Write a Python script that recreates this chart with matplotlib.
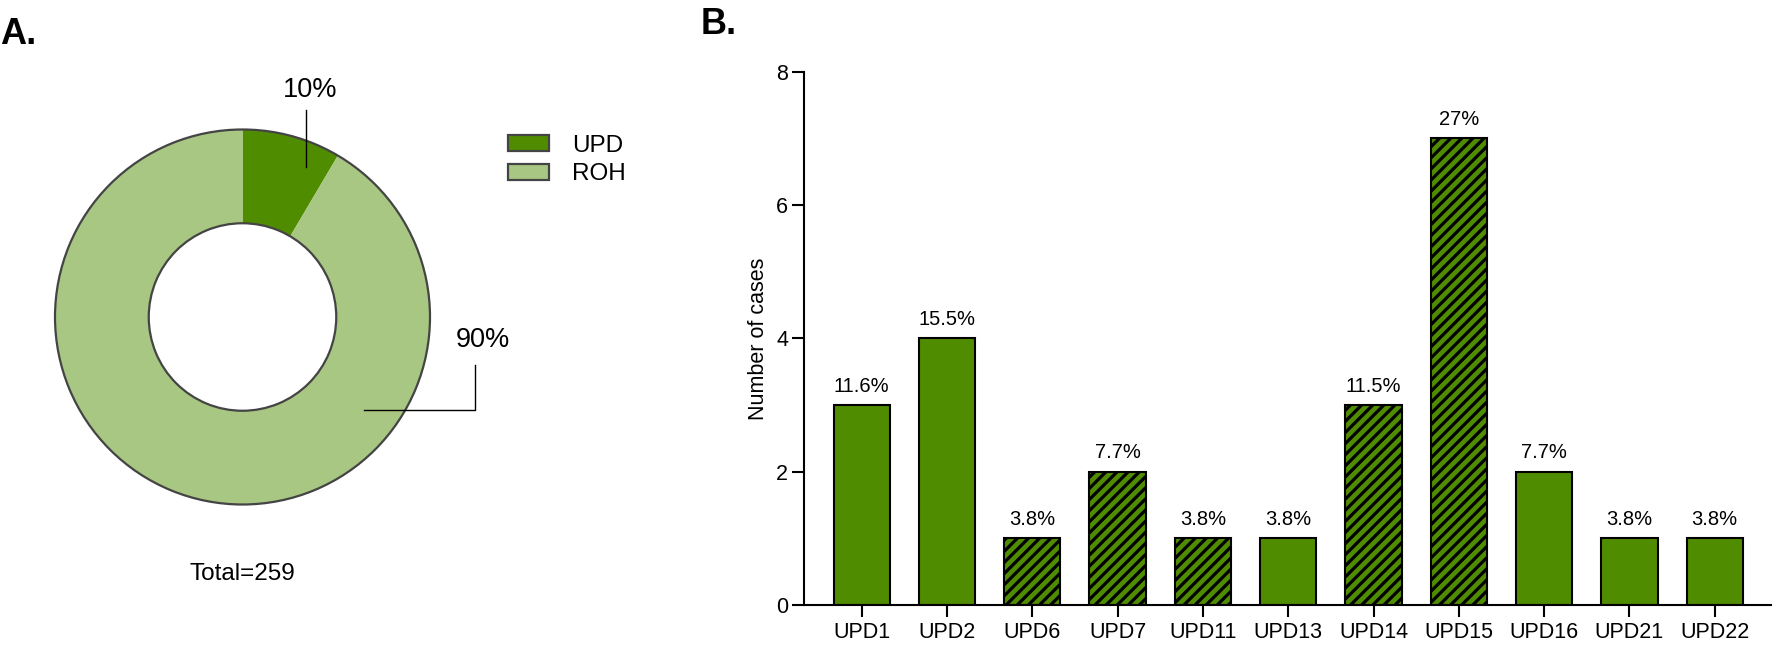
import matplotlib
matplotlib.use("Agg")
import matplotlib.pyplot as plt
from matplotlib.patches import Patch

plt.rcParams['font.family'] = ['Liberation Sans', 'DejaVu Sans']
plt.rcParams['hatch.linewidth'] = 2.3

# ---- data ----
pie_labels = ["UPD", "ROH"]
pie_counts = [22, 237]
pie_pct_text = ["10%", "90%"]
total_text = "Total=259"

bar_cats = ["UPD1", "UPD2", "UPD6", "UPD7", "UPD11", "UPD13", "UPD14",
            "UPD15", "UPD16", "UPD21", "UPD22"]
bar_vals = [3, 4, 1, 2, 1, 1, 3, 7, 2, 1, 1]
bar_pct = ["11.6%", "15.5%", "3.8%", "7.7%", "3.8%", "3.8%", "11.5%",
           "27%", "7.7%", "3.8%", "3.8%"]
bar_hatched = [False, False, True, True, True, False, True, True, False, False, False]
y_ticks = [0, 2, 4, 6, 8]

DARK = "#508C00"
LIGHT = "#A8C782"
EDGE = "#444444"

W, H = 1773, 649
fig = plt.figure(figsize=(W / 100, H / 100), dpi=100)

# ---- Panel A: donut ----
cx, cy, R = 242.5, 317.0, 187.5
half = 200.0
axA = fig.add_axes([(cx - half) / W, (H - cy - half) / H, 2 * half / W, 2 * half / H])
axA.set_aspect('equal')
axA.axis('off')

axA.pie(pie_counts, colors=[DARK, LIGHT], startangle=90, counterclock=False,
        radius=1.0, wedgeprops=dict(width=0.5, edgecolor='none', linewidth=0))
axA.pie([1], colors=['none'], radius=1.0,
        wedgeprops=dict(width=0.5, facecolor='none', edgecolor=EDGE, linewidth=1.6))
axA.set_xlim(-half / R, half / R)
axA.set_ylim(-half / R, half / R)


def px(x, y):
    return ((x - cx) / R, (cy - y) / R)


# leader lines
l1 = [px(306, 110), px(306, 167)]
axA.plot([p[0] for p in l1], [p[1] for p in l1], color='black', lw=1.0, clip_on=False)
l2 = [px(364, 410), px(475, 410), px(475, 365)]
axA.plot([p[0] for p in l2], [p[1] for p in l2], color='black', lw=1.0, clip_on=False)

tx, ty = px(310, 90)
axA.text(tx, ty, pie_pct_text[0], ha='center', va='center', fontsize=19.5, clip_on=False)
tx, ty = px(483, 340)
axA.text(tx, ty, pie_pct_text[1], ha='center', va='center', fontsize=19.5, clip_on=False)
tx, ty = px(242, 574)
axA.text(tx, ty, total_text, ha='center', va='center', fontsize=17.5, clip_on=False)

handles = [Patch(facecolor=c, edgecolor=EDGE, linewidth=1.6) for c in [DARK, LIGHT]]
fig.legend(handles, pie_labels, loc='upper left',
           bbox_to_anchor=(507.7 / W, (H - 134.5) / H), frameon=False,
           fontsize=17.5, handlelength=1.69, handleheight=0.62,
           handletextpad=0.97, labelspacing=0.28, borderpad=0, borderaxespad=0)

fig.text(0.0, (H - 43.5) / H, "A.", fontsize=26, fontweight='bold', va='baseline', ha='left')
fig.text(701 / W, (H - 34) / H, "B.", fontsize=26, fontweight='bold', va='baseline', ha='left')

# ---- Panel B: bars ----
left, right = 804.3, 1771.0
top, bottom = 71.7, 605.0
axB = fig.add_axes([left / W, (H - bottom) / H, (right - left) / W, (bottom - top) / H])
x = list(range(len(bar_cats)))
for i, (v, h) in enumerate(zip(bar_vals, bar_hatched)):
    axB.bar(i, v, width=0.66, color=DARK, edgecolor='black', linewidth=1.5,
            hatch='///' if h else None, zorder=2)
for i, (v, t) in enumerate(zip(bar_vals, bar_pct)):
    axB.annotate(t, (i, v), xytext=(0, 9.6), textcoords='offset points',
                 ha='center', va='baseline', fontsize=14.5)

axB.set_xlim(-0.673, 10.66)
axB.set_ylim(0, 8)
axB.set_yticks(y_ticks)
axB.set_xticks(x)
axB.set_xticklabels(bar_cats)
for s in ['top', 'right']:
    axB.spines[s].set_visible(False)
for s in ['left', 'bottom']:
    axB.spines[s].set_linewidth(1.5)
axB.tick_params(axis='both', direction='out', length=8.5, width=1.5, labelsize=15.5)
axB.tick_params(axis='x', pad=4)
axB.tick_params(axis='y', pad=3)
axB.set_ylabel("Number of cases", fontsize=15.5)
axB.yaxis.set_label_coords(-0.037, 0.5)

fig.savefig("out.png", dpi=100)
